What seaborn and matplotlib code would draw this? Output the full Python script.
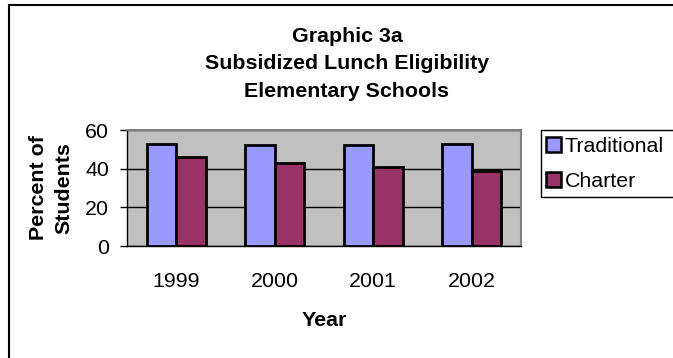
import matplotlib
matplotlib.use("Agg")
import matplotlib.pyplot as plt
from matplotlib.patches import Patch, Rectangle
import seaborn as sns
import pandas as pd

years = ["1999", "2000", "2001", "2002"]
traditional = [53, 52, 52, 53]
charter = [46, 43, 41, 39]
series_names = ["Traditional", "Charter"]
series_colors = ["#9999FF", "#993366"]
y_ticks = [0, 20, 40, 60]

df = pd.DataFrame({
    "Year": years * 2,
    "Percent": traditional + charter,
    "School": [series_names[0]] * len(years) + [series_names[1]] * len(years),
})

sns.set_theme(style="white")
plt.rcParams["font.family"] = ["Liberation Sans", "DejaVu Sans"]
plt.rcParams.update({
    "text.color": "black",
    "axes.labelcolor": "black",
    "xtick.color": "black",
    "ytick.color": "black",
    "xtick.labelcolor": "black",
    "ytick.labelcolor": "black",
})

W, H, DPI = 673, 358, 100
fig = plt.figure(figsize=(W / DPI, H / DPI), dpi=DPI)
fig.patch.set_facecolor("white")

# plot area in pixel coordinates
left, right, top, bottom = 127, 521, 130, 246
ax = fig.add_axes([left / W, 1 - bottom / H, (right - left) / W, (bottom - top) / H])
ax.set_facecolor("#C0C0C0")

sns.barplot(data=df, x="Year", y="Percent", hue="School", order=years,
            hue_order=series_names, palette=series_colors, width=0.6,
            edgecolor="black", linewidth=2.0, saturation=1, ax=ax,
            legend=False, zorder=3)

ax.set_ylim(0, 60)
ax.set_xlim(-0.5, len(years) - 0.5)
ax.set_yticks(y_ticks)
ax.yaxis.grid(True, color="black", linewidth=1.0, zorder=1)
ax.set_axisbelow(True)

# boundary ticks between categories, labels centred on categories
ax.set_xticks([i - 0.5 for i in range(len(years) + 1)])
ax.set_xticklabels([])
ax.set_xticks(range(len(years)), minor=True)
ax.set_xticklabels(years, minor=True)
ax.tick_params(axis="x", which="major", direction="out", length=8, width=1, color="black")
ax.tick_params(axis="x", which="minor", length=0, pad=19, labelsize=15.4)
ax.tick_params(axis="y", direction="out", length=5, width=1, color="black",
               pad=8, labelsize=15.4, left=True)

for side in ("top", "right"):
    ax.spines[side].set_color("#808080")
    ax.spines[side].set_linewidth(1.5)
for side in ("left", "bottom"):
    ax.spines[side].set_color("black")
    ax.spines[side].set_linewidth(1.0)

ax.set_xlabel("Year", fontsize=15.4, fontweight="bold", labelpad=14)
ax.set_ylabel("Percent of\nStudents", fontsize=15.4, fontweight="bold",
              labelpad=8, linespacing=1.45)

# title lines, placed by baseline
title_lines = ["Graphic 3a", "Subsidized Lunch Eligibility", "Elementary Schools"]
for line, yb in zip(title_lines, [41.7, 69.2, 96.8]):
    fig.text(347 / W, 1 - yb / H, line, ha="center", va="baseline",
             fontsize=15.4, fontweight="bold")

# legend
handles = [Patch(facecolor=c, edgecolor="black", linewidth=1.8) for c in series_colors]
fig.legend(handles, series_names, loc="upper left",
           bbox_to_anchor=(546 / W, 1 - 137 / H), bbox_transform=fig.transFigure,
           frameon=False, borderpad=0, borderaxespad=0, handlelength=0.72,
           handleheight=0.72, handletextpad=0.15, labelspacing=0.75,
           fontsize=15.4)
fig.add_artist(Rectangle((541 / W, 1 - 197 / H), 200 / W, 67 / H,
                         transform=fig.transFigure, facecolor="none",
                         edgecolor="black", linewidth=1.0))

# outer chart border
fig.add_artist(Rectangle((8.5 / W, -0.2), 2.0, 1.2 - 4.7 / H,
                         transform=fig.transFigure, facecolor="none",
                         edgecolor="black", linewidth=1.5))

fig.savefig("out.png", dpi=DPI, facecolor="white")
